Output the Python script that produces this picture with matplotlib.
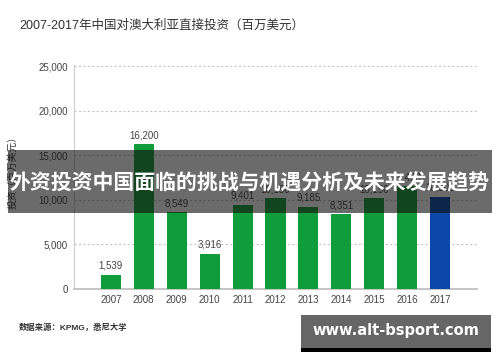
import matplotlib
matplotlib.use("Agg")
import matplotlib.pyplot as plt
from matplotlib.patches import Rectangle

plt.rcParams['font.family'] = ['Liberation Sans', 'Noto Sans CJK SC', 'DejaVu Sans']

years = ['2007', '2008', '2009', '2010', '2011', '2012', '2013', '2014', '2015', '2016', '2017']
values = [1539, 16200, 8549, 3916, 9401, 10150, 9185, 8351, 10150, 11490, 10300]
bar_colors = ['#119c3c'] * 10 + ['#0c48a8']
yticks = [0, 5000, 10000, 15000, 20000, 25000]

title = '2007-2017年中国对澳大利亚直接投资（百万美元）'
ylabel = '投资（百万美元）'
source = '数据来源：KPMG，悉尼大学'
banner = '外资投资中国面临的挑战与机遇分析及未来发展趋势'
watermark = 'www.alt-bsport.com'

fig = plt.figure(figsize=(5.0, 3.62), dpi=100)
ax = fig.add_axes([0.148, 0.203, 0.806, 0.617])

x = list(range(len(years)))
ax.bar(x, values, width=0.61, color=bar_colors, zorder=3)
for xi, v in zip(x, values):
    ax.text(xi, v + 450, f'{v:,}', ha='center', va='bottom', fontsize=7, color='#444444', zorder=4)

ax.set_xlim(-1.12, len(years) - 1 + 1.12)
ax.set_ylim(0, 25100)
ax.set_xticks(x)
ax.set_xticklabels(years)
ax.set_yticks(yticks)
ax.set_yticklabels([f'{t:,}' for t in yticks])
ax.tick_params(axis='both', length=0, labelsize=7, colors='#444444')
ax.tick_params(axis='x', pad=5)
ax.tick_params(axis='y', pad=4.5)
ax.yaxis.grid(True, linestyle=(0, (2, 2)), color='#c8c8c8', linewidth=0.8, zorder=0)
ax.spines['top'].set_visible(False)
ax.spines['right'].set_visible(False)
ax.spines['left'].set_color('#cccccc')
ax.spines['bottom'].set_color('#bbbbbb')
ax.spines['bottom'].set_linewidth(1.2)
ax.set_ylabel(ylabel, fontsize=7, color='#333333')
ax.yaxis.set_label_coords(-0.139, 0.53)

fig.text(0.038, 0.928, title, fontsize=9, color='#333333', va='center', ha='left')
fig.text(0.038, 0.094, source, fontsize=6, color='#333333', va='center', ha='left', fontweight='bold')

# overlay banner
fig.patches.append(Rectangle((8/500, 1 - 213/362), 484/500, 63/362, transform=fig.transFigure,
                             facecolor='#101010', alpha=0.62, edgecolor='none', zorder=10))
fig.text(0.5, 1 - 183/362, banner, fontsize=15, color='white', fontweight='bold',
         ha='center', va='center', zorder=11, family=['Noto Sans CJK SC', 'DejaVu Sans'])

# watermark
fig.patches.append(Rectangle((301/500, 1 - 348/362), 190/500, 33/362, transform=fig.transFigure,
                             facecolor='#666666', edgecolor='none', zorder=10))
fig.patches.append(Rectangle((301/500, 1 - 352/362), 190/500, 4/362, transform=fig.transFigure,
                             facecolor='#000000', edgecolor='none', zorder=10))
fig.text(396/500, 1 - 331/362, watermark, fontsize=10.5, color='white', fontweight='bold',
         ha='center', va='center', zorder=11, family=['DejaVu Sans'])

fig.savefig('out.png', dpi=100)
